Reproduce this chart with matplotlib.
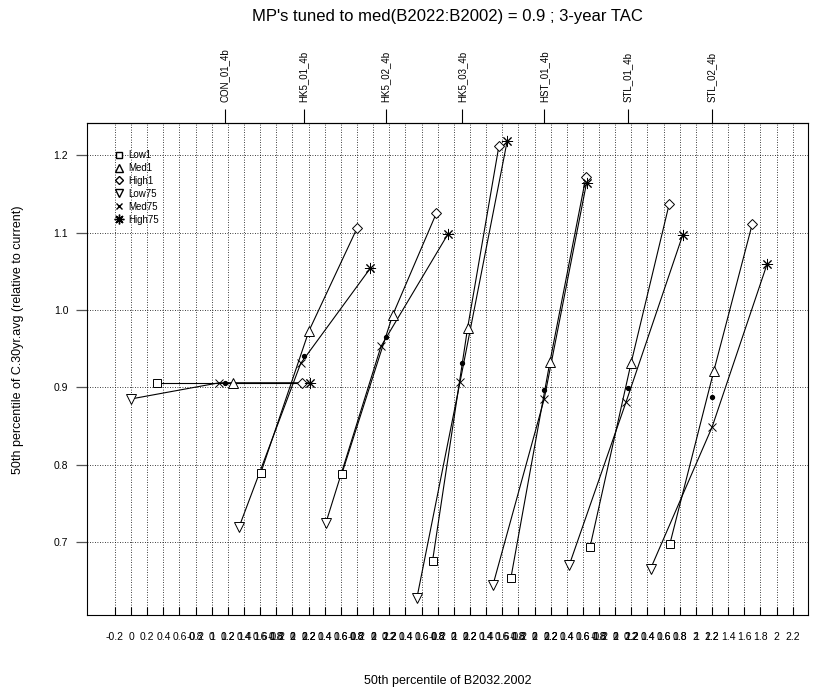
import numpy as np
import matplotlib
matplotlib.use('Agg')
import matplotlib.pyplot as plt
from matplotlib.lines import Line2D

plt.rcParams['font.family'] = ['Liberation Sans', 'DejaVu Sans']

###########                 Data                 ###########
#----------------------------------------------------------#
mp_names = ['CON_01_4b', 'HK5_01_4b', 'HK5_02_4b', 'HK5_03_4b',
            'HST_01_4b', 'STL_01_4b', 'STL_02_4b']

# 50th percentile of B2032/B2002 for each productivity scenario
low1_x   = [0.317, 0.606, 0.610, 0.737, 0.708, 0.687, 0.678]
med1_x   = [1.259, 1.204, 1.242, 1.171, 1.191, 1.198, 1.223]
high1_x  = [2.118, 1.803, 1.782, 1.559, 1.637, 1.669, 1.698]
low75_x  = [-0.005, 0.337, 0.415, 0.543, 0.484, 0.430, 0.439]
med75_x  = [1.093, 1.102, 1.097, 1.076, 1.120, 1.133, 1.202]
high75_x = [2.217, 1.964, 1.931, 1.662, 1.646, 1.835, 1.884]

# 50th percentile of C.30yr.avg (relative to current)
low1_y   = [0.906, 0.789, 0.7875, 0.676, 0.654, 0.693, 0.6977]
med1_y   = [0.906, 0.973, 0.9935, 0.977, 0.933, 0.932, 0.9216]
high1_y  = [0.906, 1.1065, 1.125, 1.2125, 1.172, 1.137, 1.111]
low75_y  = [0.885, 0.719, 0.725, 0.628, 0.644, 0.670, 0.6655]
med75_y  = [0.906, 0.931, 0.953, 0.9065, 0.885, 0.8806, 0.849]
high75_y = [0.906, 1.054, 1.099, 1.219, 1.165, 1.0966, 1.060]

# tuned reference point of each MP
tune_x = [1.164, 1.139, 1.155, 1.100, 1.120, 1.154, 1.202]
tune_y = [0.906, 0.941, 0.965, 0.932, 0.8966, 0.899, 0.887]

x_ticks = np.round(np.arange(-0.2, 2.21, 0.2), 1)
y_ticks = [0.7, 0.8, 0.9, 1.0, 1.1, 1.2]
y_tick_labels = ['0.7', '0.8', '0.9', '1.0', '1.1', '1.2']

###########                Figure                ###########
#----------------------------------------------------------#
fig = plt.figure(figsize=(8.21, 6.90), dpi=100)
ax = fig.add_axes([0.1063, 0.1087, 0.8777, 0.7130])

n_mp = len(mp_names)
offset = np.arange(n_mp)

# grid: dotted verticals at every tick of every MP, dotted horizontals
all_ticks = np.unique(np.round((offset[:, None] + x_ticks[None, :]).ravel(), 1))
for xv in all_ticks:
    ax.axvline(xv, color='black', linestyle=(0, (1, 2)), linewidth=0.6, zorder=0)
for yv in y_ticks:
    ax.axhline(yv, color='black', linestyle=(0, (1, 2)), linewidth=0.6, zorder=0)

# trajectories, each MP shifted by its offset
line_kw = dict(color='black', linewidth=0.8, zorder=2)
mk_kw = dict(color='black', markerfacecolor='white', linestyle='none', zorder=3)
for i in range(n_mp):
    ax.plot(offset[i] + np.array([low1_x[i], med1_x[i], high1_x[i]]),
            [low1_y[i], med1_y[i], high1_y[i]], **line_kw)
    ax.plot(offset[i] + np.array([low75_x[i], med75_x[i], high75_x[i]]),
            [low75_y[i], med75_y[i], high75_y[i]], **line_kw)

ax.plot(offset + np.array(low1_x), low1_y, marker='s', markersize=5.5, markeredgewidth=0.7, **mk_kw)
ax.plot(offset + np.array(med1_x), med1_y, marker='^', markersize=6.5, markeredgewidth=0.7, **mk_kw)
ax.plot(offset + np.array(high1_x), high1_y, marker='D', markersize=5.5, markeredgewidth=0.7, **mk_kw)
ax.plot(offset + np.array(low75_x), low75_y, marker='v', markersize=6.5, markeredgewidth=0.7, **mk_kw)
ax.plot(offset + np.array(med75_x), med75_y, marker='x', markersize=5.5, markeredgewidth=0.7,
        color='black', linestyle='none', zorder=3)
ax.plot(offset + np.array(high75_x), high75_y, marker=(8, 2, 0), markersize=8, markeredgewidth=0.7,
        color='black', linestyle='none', zorder=3)
ax.plot(offset + np.array(tune_x), tune_y, marker='o', markersize=2.8,
        color='black', linestyle='none', zorder=4)

ax.set_xlim(-0.543, 8.388)
ax.set_ylim(0.6056, 1.242)

# bottom axis: each MP gets its own labels, which overlap
ax.set_xticks(all_ticks)
ax.set_xticklabels([])
ax.tick_params(axis='x', direction='in', length=6, width=0.8, bottom=True)
for i in range(n_mp):
    for v in x_ticks:
        ax.text(offset[i] + v, -0.035, '%g' % v, transform=ax.get_xaxis_transform(),
                ha='center', va='top', fontsize=7.5)

ax.set_yticks(y_ticks)
ax.set_yticklabels(y_tick_labels, fontsize=7.5)
ax.tick_params(axis='y', direction='out', length=7.7, width=0.9, color='#555555', pad=6)

# MP names on top axis at the tuned point
top = ax.secondary_xaxis('top')
top.set_xticks(offset + np.array(tune_x))
top.set_xticklabels(mp_names, rotation=90, fontsize=7)
top.tick_params(axis='x', direction='out', length=10, width=0.8, pad=5)

for s in ax.spines.values():
    s.set_linewidth(0.8)

legend_handles = [
    Line2D([], [], marker='s', markersize=5, **mk_kw),
    Line2D([], [], marker='^', markersize=5.5, **mk_kw),
    Line2D([], [], marker='D', markersize=4.5, **mk_kw),
    Line2D([], [], marker='v', markersize=5.5, **mk_kw),
    Line2D([], [], marker='x', markersize=5, color='black', linestyle='none'),
    Line2D([], [], marker=(8, 2, 0), markersize=7, color='black', linestyle='none'),
]
ax.legend(legend_handles, ['Low1', 'Med1', 'High1', 'Low75', 'Med75', 'High75'],
          loc='upper left', bbox_to_anchor=(0.03, 0.955), frameon=False, fontsize=7,
          handlelength=1.0, handletextpad=0.5, labelspacing=0.3, borderpad=0)

ax.set_xlabel('50th percentile of B2032.2002', fontsize=9, labelpad=40)
fig.text(18.3 / 821, 1 - 340 / 690, '50th percentile of C.30yr.avg (relative to current)',
         rotation=90, ha='center', va='center', fontsize=9)
# main title centred over the plotting region
fig.text(447.6 / 821, 1 - 17 / 690, "MP's tuned to med(B2022:B2002) = 0.9 ; 3-year TAC",
         ha='center', va='center', fontsize=12)

fig.savefig('out.png', dpi=100)
